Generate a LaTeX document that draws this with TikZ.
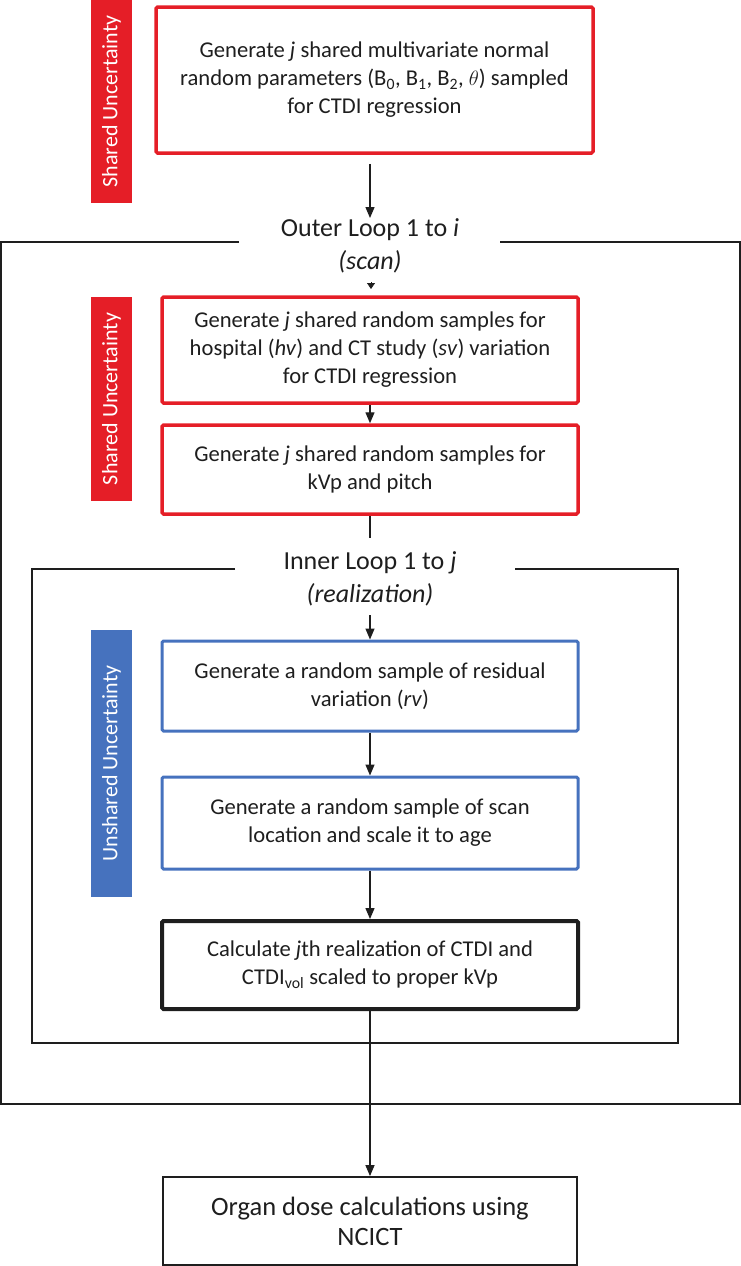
\documentclass[tikz,border=0pt]{standalone}
\usepackage{fontspec}
\setmainfont{Carlito}
\usetikzlibrary{arrows.meta}
\definecolor{myred}{RGB}{229,30,39}
\definecolor{myblue}{RGB}{70,114,190}
\definecolor{ink}{RGB}{30,30,30}
\begin{document}
\begin{tikzpicture}[x=1pt,y=-1pt,
  box/.style={draw, rectangle, rounded corners=1.5pt, align=center, inner sep=0pt, font=\fontsize{22.6}{28}\selectfont, text=ink},
  redbox/.style={box, draw=myred, line width=3.5pt},
  bluebox/.style={box, draw=myblue, line width=3pt},
  calcbox/.style={box, draw=ink, line width=4pt},
  plainbox/.style={box, draw=ink, line width=1.8pt, rounded corners=0pt, font=\fontsize{26.5}{30}\selectfont},
  sidebar/.style={rectangle, inner sep=0pt, minimum height=41pt, text=white, font=\fontsize{22}{26}\selectfont, rotate=90},
  looplabel/.style={align=center, font=\fontsize{26}{33}\selectfont, text=ink, inner sep=0pt},
  frame/.style={draw=ink, line width=1.6pt},
  arr/.style={draw=ink, line width=1.3pt, -{Triangle[length=11pt,width=9pt]}},
  arrsmall/.style={draw=ink, line width=0.8pt, -{Triangle[length=6pt,width=8pt]}},
  link/.style={draw=ink, line width=1.3pt},
]
\useasboundingbox (0,0) rectangle (741,1266);

% loop frames
\draw[frame] (239,242) -- (1,242) -- (1,1104) -- (740,1104) -- (740,242) -- (500,242);
\draw[frame] (235,569) -- (32,569) -- (32,1043) -- (678,1043) -- (678,569) -- (515,569);

% side bars
\node[sidebar, fill=myred, minimum width=203pt] (bar1) at (111.5,101.5) {Shared Uncertainty};
\node[sidebar, fill=myred, minimum width=204pt] (bar2) at (111.5,399) {Shared Uncertainty};
\node[sidebar, fill=myblue, minimum width=267pt] (bar3) at (111.5,763.5) {Unshared Uncertainty};

% boxes
\node[redbox, minimum width=437pt, minimum height=146pt] (top) at (374.5,80)
  {Generate \textit{j} shared multivariate normal\\random parameters (B\textsubscript{0}, B\textsubscript{1}, B\textsubscript{2}, $\theta$) sampled\\for CTDI regression};
\node[redbox, minimum width=416pt, minimum height=106pt] (box2) at (370,350)
  {Generate \textit{j} shared random samples for\\hospital (\textit{hv}) and CT study (\textit{sv}) variation\\for CTDI regression};
\node[redbox, minimum width=416pt, minimum height=89pt] (box3) at (370,469.5)
  {Generate \textit{j} shared random samples for\\kVp and pitch};
\node[bluebox, minimum width=416pt, minimum height=90pt] (box4) at (370,686)
  {Generate a random sample of residual\\variation (\textit{rv})};
\node[bluebox, minimum width=416pt, minimum height=92pt] (box5) at (370,823)
  {Generate a random sample of scan\\location and scale it to age};
\node[calcbox, minimum width=416pt, minimum height=88pt] (box6) at (370,965)
  {Calculate \textit{j}th realization of CTDI and\\CTDI\textsubscript{vol} scaled to proper kVp};
\node[plainbox, minimum width=414pt, minimum height=88pt] (final) at (370,1221)
  {Organ dose calculations using\\NCICT};

% loop labels
\node[looplabel] (outerlbl) at (370,245.5) {Outer Loop 1 to \textit{i}\\\textit{(scan)}};
\node[looplabel] (innerlbl) at (370,579) {Inner Loop 1 to \textit{j}\\\textit{(realization)}};

% connectors
\coordinate (t1) at (370,218);
\draw[arr, shorten <=9pt] (top.south -| t1) -- (t1);
\coordinate (sa) at (371,282);
\coordinate (sb) at (371,289);
\draw[arrsmall] (sa) -- (sb);
\draw[arr] (box2.south) -- (box3.north);
\coordinate (c1) at (370,538);
\draw[link] (box3.south) -- (c1);
\coordinate (c2) at (370,615);
\draw[arr] (c2) -- (box4.north);
\draw[arr] (box4.south) -- (box5.north);
\draw[arr] (box5.south) -- (box6.north);
\draw[arr] (box6.south) -- (final.north);
\end{tikzpicture}
\end{document}
